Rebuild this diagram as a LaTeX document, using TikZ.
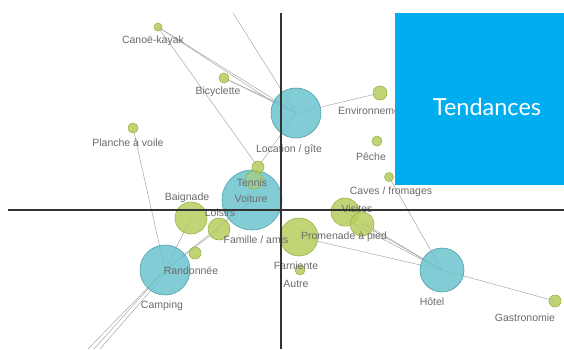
\documentclass[tikz,border=0pt]{standalone}
\usepackage{fontspec}
\setmainfont{Liberation Sans}
\newfontfamily\tendfont{Lato}
\definecolor{boxblue}{HTML}{00AEEF}
\definecolor{tealfill}{HTML}{6CC4CE}
\definecolor{tealline}{HTML}{4E9EA8}
\definecolor{grnfill}{HTML}{B7CE5E}
\definecolor{grnline}{HTML}{98B447}
\definecolor{lbl}{HTML}{6A6A6A}
\definecolor{lnk}{HTML}{A8A8A8}
\begin{document}
\begin{tikzpicture}[x=1pt,y=-1pt,
  bub/.style={circle,inner sep=0pt,fill=tealfill,draw=tealline,line width=0.6pt,fill opacity=0.85},
  gb/.style={circle,inner sep=0pt,fill=grnfill,draw=grnline,line width=0.6pt,fill opacity=0.85},
  lab/.style={text=lbl,font=\fontsize{10.5}{11}\selectfont,inner sep=0pt},
  link/.style={draw=lnk,line width=0.5pt},
  axis/.style={draw=black!80,line width=1.1pt}]
\useasboundingbox (0,0) rectangle (564,349);
% coordinates for nodes
\coordinate (cLoc) at (296,113);
\coordinate (cVoi) at (252,200);
\coordinate (cRan) at (165,270);
\coordinate (cHot) at (442,270);
\coordinate (cCan) at (158,27);
\coordinate (cBic) at (224,78);
\coordinate (cPla) at (133,128);
\coordinate (cEnv) at (380,93);
\coordinate (cPec) at (377,141);
\coordinate (cCav) at (389,177);
\coordinate (cTen) at (258,167);
\coordinate (cTe2) at (254,180);
\coordinate (cBai) at (191,218);
\coordinate (cLoi) at (219,229);
\coordinate (cSma) at (195,253);
\coordinate (cVis) at (345,212);
\coordinate (cVi2) at (362,224);
\coordinate (cPro) at (299,237);
\coordinate (cAut) at (300,270);
\coordinate (cGas) at (555,301);
\coordinate (topend) at (233,13);
\coordinate (bl1) at (88,349);
\coordinate (bl2) at (94,349);
\coordinate (bl3) at (100,349);
% links
\path[link] (topend) -- (cLoc);
\path[link] (cCan) -- (cLoc);
\path[link] (cCan) -- (276,104);
\path[link] (cCan) -- (cTen);
\path[link] (cBic) -- (cLoc);
\path[link] (cBic) -- (278,103);
\path[link] (cLoc) -- (cEnv);
\path[link] (cLoc) -- (cTen);
\path[link] (cPla) -- (cRan);
\path[link] (cCav) -- (cHot);
\path[link] (cVis) -- (cHot);
\path[link] (cVi2) -- (cHot);
\path[link] (350,222) -- (cHot);
\path[link] (cPro) -- (cHot);
\path[link] (cHot) -- (cGas);
\path[link] (cRan) -- (bl1);
\path[link] (cRan) -- (bl2);
\path[link] (172,266) -- (bl3);
\path[link] (cRan) -- (cVoi);
\path[link] (cRan) -- (cBai);
\path[link] (cRan) -- (cLoi);
% bubbles
\node[bub,minimum size=50pt] (loc) at (cLoc) {};
\node[bub,minimum size=60pt] (voi) at (cVoi) {};
\node[bub,minimum size=50pt] (ran) at (cRan) {};
\node[bub,minimum size=44pt] (hot) at (cHot) {};
\node[gb,minimum size=8pt] (can) at (cCan) {};
\node[gb,minimum size=10pt] (bic) at (cBic) {};
\node[gb,minimum size=10pt] (pla) at (cPla) {};
\node[gb,minimum size=14pt] (env) at (cEnv) {};
\node[gb,minimum size=10pt] (pec) at (cPec) {};
\node[gb,minimum size=9pt] (cav) at (cCav) {};
\node[gb,minimum size=12pt] (ten) at (cTen) {};
\node[gb,minimum size=18pt,fill opacity=0.5] (te2) at (cTe2) {};
\node[gb,minimum size=32pt] (bai) at (cBai) {};
\node[gb,minimum size=22pt] (loi) at (cLoi) {};
\node[gb,minimum size=12pt] (sma) at (cSma) {};
\node[gb,minimum size=28pt] (vis) at (cVis) {};
\node[gb,minimum size=24pt] (vi2) at (cVi2) {};
\node[gb,minimum size=38pt] (pro) at (cPro) {};
\node[gb,minimum size=10pt] (aut) at (cAut) {};
\node[gb,minimum size=12pt] (gas) at (cGas) {};
% labels
\node[lab] (lcan) at (153,41) {Canoë-kayak};
\node[lab] (lbic) at (218,92) {Bicyclette};
\node[lab] (lpla) at (128,143) {Planche à voile};
\node[lab,anchor=west] (lenv) at (338,111) {Environnement};
\node[lab] (lloc) at (289,150) {Location / gîte};
\node[lab] (lpec) at (371,157) {Pêche};
\node[lab] (lcav) at (391,192) {Caves / fromages};
\node[lab] (lten) at (252,183) {Tennis};
\node[lab] (lvoi) at (251,199) {Voiture};
\node[lab] (lbai) at (187,198) {Baignade};
\node[lab] (lloi) at (220,213) {Loisirs};
\node[lab] (lfam) at (256,240) {Famille / amis};
\node[lab] (lvis) at (357,209) {Visites};
\node[lab] (lpro) at (344,237) {Promenade à pied};
\node[lab] (lran) at (191,271) {Randonnée};
\node[lab] (lfar) at (296,266) {Farniente};
\node[lab] (laut) at (296,284) {Autre};
\node[lab] (lcam) at (162,306) {Camping};
\node[lab] (lhot) at (432,302) {Hôtel};
\node[lab] (lgas) at (525,318) {Gastronomie};
% axes
\coordinate (ax1) at (281,13);
\coordinate (ax2) at (281,349);
\coordinate (ay1) at (8,210);
\coordinate (ay2) at (564,210);
\path[axis] (ax1) -- (ax2);
\path[axis] (ay1) -- (ay2);
% title box
\node[fill=boxblue,minimum width=169pt,minimum height=172pt,anchor=north west,inner sep=0pt] (box) at (395,13) {};
\node[text=white,font=\tendfont\fontsize{23.5}{24}\selectfont,inner sep=0pt] (title) at (487,107) {Tendances};
\end{tikzpicture}
\end{document}
